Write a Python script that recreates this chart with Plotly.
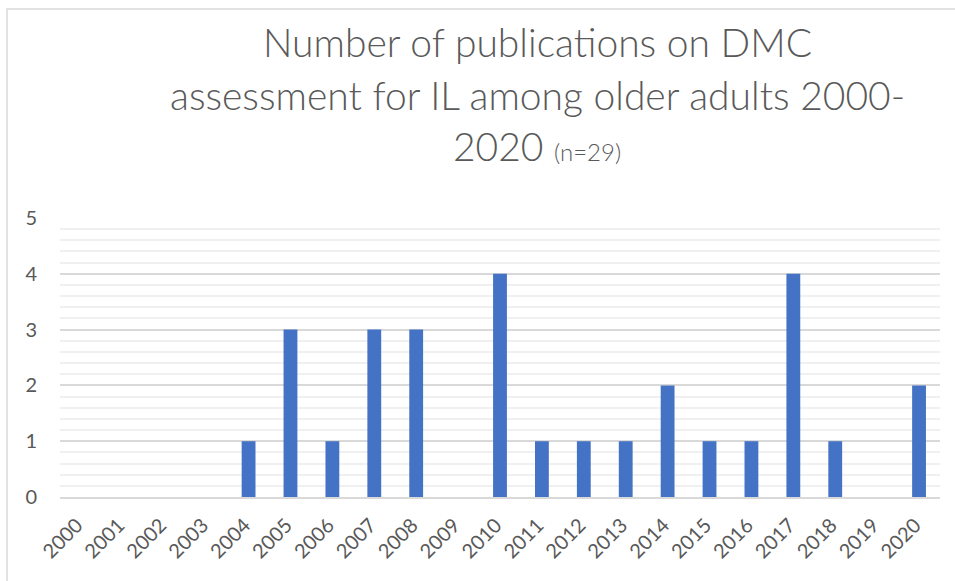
import plotly.graph_objects as go

years = [str(y) for y in range(2000, 2021)]
counts = [0, 0, 0, 0, 1, 3, 1, 3, 3, 0, 4, 1, 1, 1, 2, 1, 1, 4, 1, 0, 2]
title_lines = ["Number of publications on DMC",
               "assessment for IL among older adults 2000-",
               "2020 <span style='font-size:24px'>(n=29)</span>"]

W, H = 955, 581
L, R, T, B = 60, 15, 218, 84
pw, ph = W - L - R, H - T - B

def px2x(px):
    return (px - L) / pw

def py2y(py):
    return (H - B - py) / ph

fig = go.Figure(go.Bar(x=years, y=counts, marker_color="#4472C4",
                       marker_line_width=0))

tf = dict(family="Lato", size=39, color="#595959", weight=300)
for i, (txt, py) in enumerate(zip(title_lines, [42, 95, 146])):
    fig.add_annotation(text=txt, xref="paper", yref="paper", x=px2x(537), y=py2y(py),
                       xanchor="center", yanchor="middle", showarrow=False, font=tf)

fig.add_shape(type="rect", xref="paper", yref="paper",
              x0=px2x(7), x1=px2x(1000), y0=py2y(650), y1=py2y(9),
              line=dict(color="#d9d9d9", width=1.5), fillcolor="rgba(0,0,0,0)", layer="below")

fig.update_layout(
    width=W, height=H,
    margin=dict(l=L, r=R, t=T, b=B, autoexpand=False),
    paper_bgcolor="white", plot_bgcolor="white",
    bargap=0.67, showlegend=False,
    font=dict(family="Lato", color="#595959"),
)
fig.update_xaxes(type="category", tickangle=-45, tickfont=dict(size=20, color="#595959"),
                 showgrid=False, showline=True, linecolor="#d9d9d9", linewidth=1.5,
                 ticks="", fixedrange=True, ticklabelstandoff=7, ticklabelshift=-4)
fig.update_yaxes(range=[0, 5], dtick=1, tickfont=dict(size=20, color="#595959"),
                 showgrid=True, gridcolor="#d9d9d9", gridwidth=1.5, zeroline=False,
                 ticklabelstandoff=22,
                 minor=dict(dtick=0.2, showgrid=True, gridcolor="#f0f0f0", gridwidth=1.5),
                 showline=False, ticks="")

fig.write_html("out.html", config={"displayModeBar": False},
               post_script="document.body.style.margin='0';")
